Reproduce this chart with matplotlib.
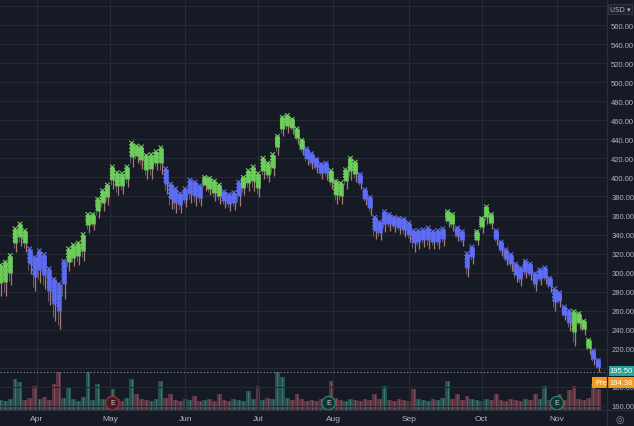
import numpy as np
import pandas as pd
import matplotlib.pyplot as plt
import matplotlib.dates as mdates
import matplotlib.transforms as mtransforms
from matplotlib.patches import Rectangle
from matplotlib.lines import Line2D

plt.rcParams['font.family'] = ['Liberation Sans', 'DejaVu Sans']

# price bands (one point every 2 days)
dates = pd.date_range('2023-03-17', periods=124, freq='2D')
high = [308, 311, 318, 346, 351, 344, 325, 316, 323, 319,
        304, 293, 288, 312, 325, 329, 331, 340, 361, 361,
        377, 386, 392, 411, 405, 404, 411, 436, 433, 432,
        423, 424, 427, 431, 409, 393, 388, 383, 388, 397,
        395, 391, 400, 399, 396, 392, 385, 382, 384, 395,
        400, 407, 411, 404, 420, 415, 424, 443, 463, 465,
        461, 451, 439, 430, 425, 419, 414, 415, 407, 396,
        394, 408, 420, 416, 403, 387, 379, 358, 353, 364,
        361, 358, 357, 356, 352, 344, 344, 345, 347, 343,
        344, 346, 364, 361, 347, 343, 320, 327, 343, 357,
        369, 361, 344, 332, 324, 319, 309, 305, 312, 309,
        299, 303, 305, 294, 283, 279, 264, 260, 259, 257,
        249, 229, 218, 208]
low = [276, 276, 287, 322, 328, 322, 299, 281, 289, 283,
       266, 249, 241, 272, 302, 307, 308, 312, 342, 345,
       357, 365, 371, 388, 381, 383, 390, 411, 415, 409,
       398, 398, 408, 404, 383, 367, 363, 363, 369, 373,
       370, 370, 386, 381, 375, 372, 368, 365, 366, 370,
       381, 386, 386, 379, 398, 395, 401, 424, 443, 447,
       446, 435, 423, 413, 409, 405, 398, 397, 388, 372,
       372, 388, 397, 395, 388, 371, 361, 335, 334, 343,
       344, 343, 341, 337, 332, 322, 325, 327, 325, 325,
       325, 328, 348, 344, 333, 328, 295, 309, 329, 342,
       351, 346, 329, 318, 308, 302, 290, 286, 294, 292,
       281, 287, 288, 280, 260, 264, 250, 239, 223, 241,
       235, 215, 203, 196]
# g = green (up phase), b = blue (down phase)
trend = ('gggggg' + 'bbbbbbbb' + 'g' * 20 + 'b' * 8 + 'gggg' + 'bbbb' + 'g' * 13
         + 'bbbbb' + 'gggggg' + 'b' * 18 + 'gg' + 'bbbb' + 'gggg' + 'b' * 16 + 'gggg' + 'bb')
volume = [40, 36, 44, 124, 112, 40, 48, 96, 44, 52,
          40, 104, 152, 48, 92, 44, 36, 52, 152, 40,
          104, 44, 40, 84, 44, 36, 48, 124, 64, 44,
          40, 36, 44, 116, 48, 64, 40, 36, 44, 40,
          56, 36, 40, 44, 36, 64, 40, 36, 44, 40,
          36, 76, 44, 96, 40, 48, 44, 152, 132, 48,
          40, 64, 44, 36, 40, 36, 44, 40, 116, 48,
          40, 36, 44, 40, 36, 44, 40, 64, 44, 96,
          40, 36, 44, 40, 36, 84, 44, 40, 36, 44,
          40, 48, 116, 44, 64, 40, 56, 44, 40, 36,
          44, 40, 64, 40, 36, 44, 40, 36, 44, 40,
          64, 44, 96, 40, 44, 64, 40, 80, 96, 44,
          40, 48, 104, 84]
earnings = ['2023-05-02', '2023-07-30', '2023-11-01']
earn_kind = ['red', 'green', 'green']
last_price = 195.50
pre_price = 194.38

bg = '#161a25'
grid = '#262a36'
txt = '#b2b5be'
W, H = 634, 427

fig = plt.figure(figsize=(6.34, 4.27), dpi=100, facecolor=bg)
pos = [0, 16 / H, 607 / W, 411 / H]

# volume panel underneath
axv = fig.add_axes(pos, facecolor=bg)
ax = fig.add_axes(pos, sharex=axv)
ax.set_facecolor('none')

x = mdates.date2num(dates)
hi = np.array(high, dtype=float)
lo = np.array(low, dtype=float)
vol = np.array(volume, dtype=float)
up = np.array(list(trend)) == 'g'

vcol = np.where(np.r_[True, hi[1:] >= hi[:-1]], '#3b8577', '#9a5060')
axv.bar(x, vol, width=2.0, color=vcol, alpha=0.5, linewidth=0)
axv.vlines(x, 0, vol, colors=vcol, lw=0.8, alpha=0.8)
axv.set_ylim(0, 411 * 4)
axv.axis('off')

# grid
for p in range(160, 600, 20):
    ax.axhline(p, color=grid, lw=0.8, zorder=0)
for m in pd.date_range('2023-04-01', '2023-11-01', freq='MS'):
    ax.axvline(mdates.date2num(m), color=grid, lw=0.8, zorder=0)

# price marks
mid = hi - 0.6 * (hi - lo)
cols = np.where(up, '#6fd05c', '#5f6ef7')
ax.vlines(x + 0.4, lo, mid + 2, colors='#c48a84', lw=0.9, alpha=0.85, zorder=3)
ax.vlines(x - 0.5, lo + 4, mid, colors='#9da3b4', lw=0.6, alpha=0.6, zorder=3)
ax.vlines(x, mid, hi, colors=cols, lw=3.3, alpha=0.95, zorder=4)
for f in (0.0, 0.15, 0.3, 0.45):
    ax.scatter(x, hi - f * (hi - lo), marker='x', s=11, c=cols, linewidths=0.8, zorder=5)

ax.axhline(last_price, color='#8f939e', ls=(0, (1, 2)), lw=0.8, zorder=2)

x0 = mdates.date2num(pd.Timestamp('2023-04-01'))
ax.set_xlim(x0 - 15.2, x0 + 234.6)
ax.set_ylim(155.8, 587.3)

ax.yaxis.tick_right()
ax.set_yticks(range(160, 561, 20))
ax.set_yticklabels([f'{v:.2f}' for v in range(160, 561, 20)])
ax.tick_params(axis='y', length=0, pad=3, labelsize=5.5, labelcolor=txt)
ax.xaxis.set_major_locator(mdates.MonthLocator())
ax.xaxis.set_major_formatter(mdates.DateFormatter('%b'))
ax.tick_params(axis='x', length=0, pad=3.5, labelsize=6, labelcolor=txt)
for s in ax.spines.values():
    s.set_visible(False)

# earnings badges
bt = mtransforms.blended_transform_factory(ax.transData, ax.transAxes)
for d, k in zip(earnings, earn_kind):
    fc, ec = ('#4a1820', '#b0303f') if k == 'red' else ('#0f3530', '#2b8c76')
    ax.text(mdates.date2num(pd.Timestamp(d)), 7 / 411, 'E', transform=bt, ha='center',
            va='center', fontsize=5, color='#d8d8d8', zorder=6,
            bbox=dict(boxstyle='circle,pad=0.45', fc=fc, ec=ec, lw=0.8))

# frame lines
fig.add_artist(Line2D([0, 1], [16 / H, 16 / H], color='#2a2e39', lw=1))
fig.add_artist(Line2D([607 / W, 607 / W], [0, 1], color='#2a2e39', lw=1))

# price labels on the right
fig.add_artist(Rectangle((609 / W, (H - 377) / H), 25 / W, 10 / H, fc='#26a69a', ec='none'))
fig.text(621.5 / W, (H - 372) / H, f'{last_price:.2f}', color='white', fontsize=5.5,
         ha='center', va='center')
fig.add_artist(Rectangle((592 / W, (H - 389) / H), 42 / W, 11 / H, fc='#f29b1f', ec='none'))
fig.text(595 / W, (H - 383.5) / H, 'Pre', color='white', fontsize=5.5, ha='left', va='center')
fig.text(621.5 / W, (H - 383.5) / H, f'{pre_price:.2f}', color='white', fontsize=5.5,
         ha='center', va='center')

fig.text(620 / W, (H - 10) / H, 'USD ▾', color=txt, fontsize=5, ha='center', va='center',
         family=['DejaVu Sans'],
         bbox=dict(boxstyle='square,pad=0.3', fc='#1e222d', ec='#363a45', lw=0.6))
fig.text(620 / W, (H - 420) / H, '◎', color='#8f939e', fontsize=7, ha='center', va='center',
         family=['DejaVu Sans'])

fig.savefig('out.png', dpi=100, facecolor=bg)
